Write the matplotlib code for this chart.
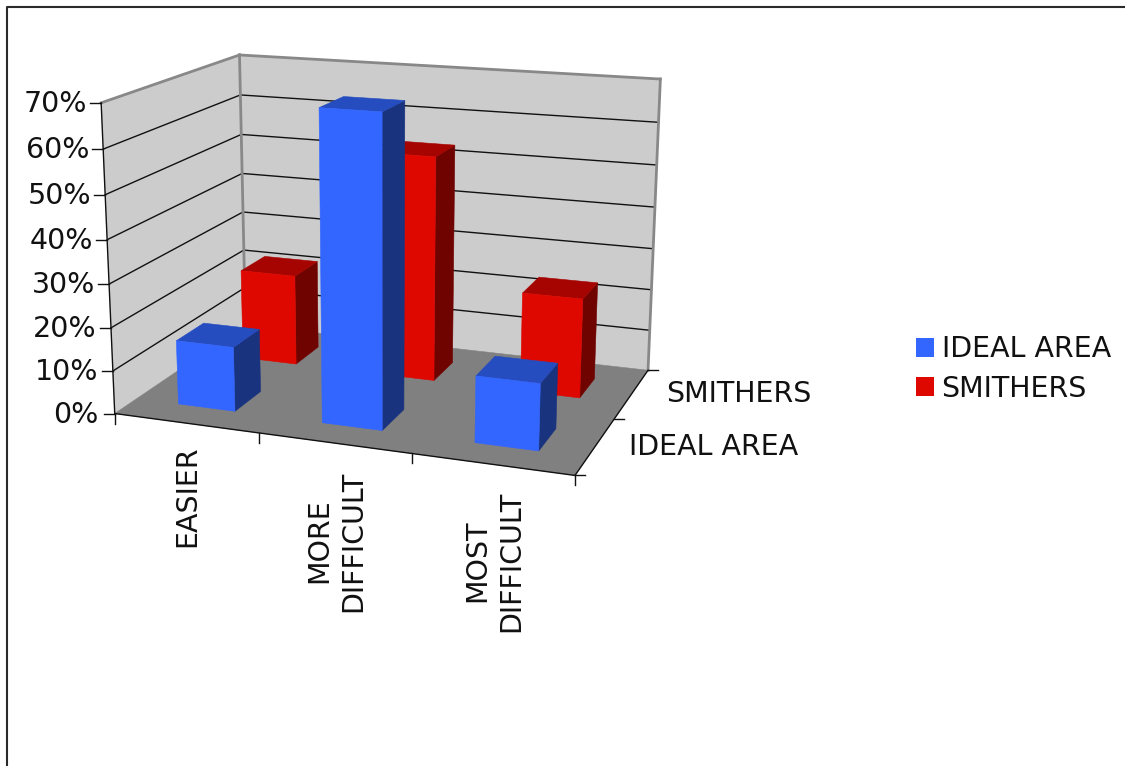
import numpy as np
import matplotlib
matplotlib.use("Agg")
import matplotlib.pyplot as plt
from matplotlib.patches import Polygon, Patch

# ---- chart data (percent) ----
categories = ["EASIER", "MORE\nDIFFICULT", "MOST\nDIFFICULT"]
series_names = ["IDEAL AREA", "SMITHERS"]
ideal_area = [15, 70, 15]
smithers = [22, 53.5, 23.5]
z_ticks = [0, 10, 20, 30, 40, 50, 60, 70]

# ---- look ----
FACE = {"IDEAL AREA": ("#3366FF", "#254DBF", "#19337F"),
        "SMITHERS": ("#DF0800", "#A60400", "#6F0300")}
WALL, FLOOR, EDGE = "#CCCCCC", "#808080", "#888888"
BAR_MARGIN = 0.3
FONT = 20.5

# Perspective camera, solved from where the box's reference points land on the canvas.
# Each row: x (category), y (depth), z (percent), canvas x, canvas y.
camera_points = np.array([
    (0, 0, 0, 115, 414), (3, 0, 0, 575, 476), (0, 2, 0, 246, 325), (3, 2, 0, 648, 370),
    (0, 0, 70, 102, 102.7), (0, 2, 70, 239, 54.7), (3, 2, 70, 660.7, 79.3),
    (1, 0, 0, 258, 433), (2, 0, 0, 412, 452), (3, 1, 0, 615, 419),
    (0, 0, 40, 106.5, 240), (0, 2, 30, 243, 212), (3, 2, 30, 652.6, 248.7),
])


def solve_camera(pts):
    rows, rhs = [], []
    for x, y, z, u, v in pts:
        rows.append([x, y, z, 1, 0, 0, 0, 0, -u * x, -u * y, -u * z])
        rhs.append(u)
        rows.append([0, 0, 0, 0, x, y, z, 1, -v * x, -v * y, -v * z])
        rhs.append(v)
    sol = np.linalg.lstsq(np.array(rows, float), np.array(rhs, float), rcond=None)[0]
    return np.append(sol, 1.0).reshape(3, 4)


CAMERA = solve_camera(camera_points)


def project(x, y, z):
    p = CAMERA @ np.array([x, y, z, 1.0])
    return p[0] / p[2], p[1] / p[2]


def quad(ax, corners, color, zorder=2):
    ax.add_patch(Polygon([project(*c) for c in corners], closed=True, facecolor=color,
                         edgecolor=color, linewidth=0.4, zorder=zorder, joinstyle="miter"))


def line3(ax, a, b, color, lw, zorder=3):
    pa, pb = project(*a), project(*b)
    ax.plot([pa[0], pb[0]], [pa[1], pb[1]], color=color, lw=lw, zorder=zorder,
            solid_capstyle="projecting")


def bar(ax, i, row, value, colors):
    front, top, side = colors
    x0, x1 = i + BAR_MARGIN, i + 1 - BAR_MARGIN
    y0, y1 = row + BAR_MARGIN, row + 1 - BAR_MARGIN
    quad(ax, [(x1, y0, 0), (x1, y1, 0), (x1, y1, value), (x1, y0, value)], side, 5)
    quad(ax, [(x0, y0, value), (x1, y0, value), (x1, y1, value), (x0, y1, value)], top, 5)
    quad(ax, [(x0, y0, 0), (x1, y0, 0), (x1, y0, value), (x0, y0, value)], front, 5)


plt.rcParams["font.family"] = "DejaVu Sans"
fig = plt.figure(figsize=(11.25, 7.66), dpi=100)
ax = fig.add_axes([0, 0, 1, 1])
ax.set_xlim(0, 1125)
ax.set_ylim(766, 0)
ax.axis("off")

# Outer chart border runs off the right and bottom of the canvas
ax.plot([7, 7, 1125], [766, 6.5, 6.5], color="#2a2a2a", lw=1.5, zorder=1)

zmax = z_ticks[-1]
quad(ax, [(0, 0, 0), (0, 2, 0), (0, 2, zmax), (0, 0, zmax)], WALL, 1)
quad(ax, [(0, 2, 0), (3, 2, 0), (3, 2, zmax), (0, 2, zmax)], WALL, 1)
quad(ax, [(0, 0, 0), (3, 0, 0), (3, 2, 0), (0, 2, 0)], FLOOR, 2)

# Gridlines across both walls
for z in z_ticks[1:-1]:
    line3(ax, (0, 0, z), (0, 2, z), "#111111", 1.0, 2)
    line3(ax, (0, 2, z), (3, 2, z), "#111111", 1.0, 2)

# Grey wall outlines
line3(ax, (0, 0, zmax), (0, 2, zmax), EDGE, 2.0)
line3(ax, (0, 2, zmax), (3, 2, zmax), EDGE, 2.0)
line3(ax, (0, 2, 0), (0, 2, zmax), EDGE, 2.0)
line3(ax, (3, 2, 0), (3, 2, zmax), EDGE, 2.0)

# Axis lines and ticks
line3(ax, (0, 0, 0), (0, 0, zmax), "#111111", 1.0, 4)
line3(ax, (0, 0, 0), (3, 0, 0), "#111111", 1.0, 4)
line3(ax, (3, 0, 0), (3, 2, 0), "#111111", 1.0, 4)

for z in z_ticks:
    px, py = project(0, 0, z)
    ax.plot([px - 11, px], [py, py], color="#111111", lw=1.0, zorder=4)
    ax.text(px - 14 - (z == 0) * 2, py + 1, f"{z}%", ha="right", va="center", fontsize=FONT, color="#111111")

for i in range(len(categories) + 1):
    px, py = project(i, 0, 0)
    ax.plot([px, px], [py, py + 10], color="#111111", lw=1.0, zorder=4)

for row in range(len(series_names) + 1):
    px, py = project(3, row, 0)
    ax.plot([px, px + 10], [py, py], color="#111111", lw=1.0, zorder=4)

# Bars, back row first so the near row overlaps it
rows = [(1, "SMITHERS", smithers), (0, "IDEAL AREA", ideal_area)]
for row, name, values in rows:
    for i, v in enumerate(values):
        bar(ax, i, row, v, FACE[name])

# Category labels, rotated
cat_pos = [(187, 496.5), (336.5, 541), (494, 561)]
for label, (cx, cy) in zip(categories, cat_pos):
    ax.text(cx, cy, label, rotation=90, ha="center", va="center", fontsize=FONT,
            color="#111111", multialignment="center", linespacing=1.25)

# Depth labels
ax.text(714, 447, series_names[0], ha="center", va="center", fontsize=FONT, color="#111111")
ax.text(739, 394, series_names[1], ha="center", va="center", fontsize=FONT, color="#111111")

handles = [Patch(facecolor=FACE[n][0], edgecolor="none", label=n) for n in series_names]
ax.legend(handles=handles, loc="center left", bbox_to_anchor=(890, 369), bbox_transform=ax.transData,
          frameon=False, fontsize=FONT, handlelength=0.63, handleheight=0.63, handletextpad=0.28,
          labelspacing=0.39, labelcolor="#111111")

fig.savefig("out.png", dpi=100, facecolor="white")
